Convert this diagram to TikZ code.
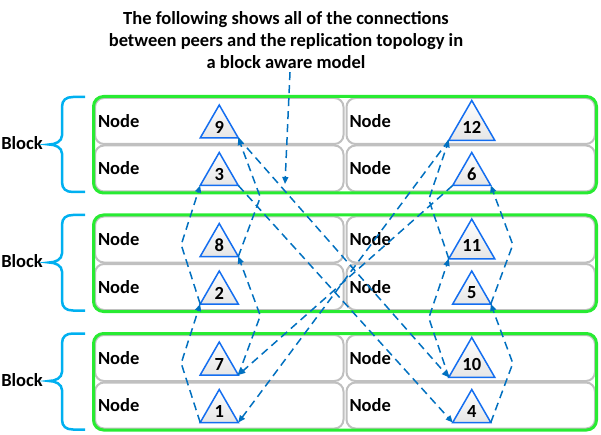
\documentclass[tikz,border=0pt]{standalone}
\usepackage{fontspec}
\setmainfont{Carlito}
\usepackage{tikz}
\usetikzlibrary{positioning,fit,calc,shapes,arrows.meta}

\definecolor{linkblue}{RGB}{0,112,192}
\definecolor{peerblue}{RGB}{20,110,240}
\definecolor{grpgreen}{RGB}{40,235,50}
\definecolor{bracecyan}{RGB}{0,176,240}
\definecolor{cellgray}{RGB}{192,192,192}

\begin{document}
\begin{tikzpicture}
	[
		x=1pt, y=-1pt,
		font=\fontsize{18.5}{22}\selectfont\bfseries,
		cell/.style = {draw=cellgray, line width=2pt, rounded corners=9pt, fill=white, minimum height=46pt, text width=242.5pt, inner xsep=3pt, outer sep=0pt, align=left},
		grp/.style = {draw=grpgreen, line width=3pt, rounded corners=10pt, inner sep=1.5pt},
		peer/.style = {regular polygon, regular polygon sides=3, minimum size=44pt, inner sep=0pt, outer sep=0pt, draw=peerblue, line width=1.5pt, top color=white, bottom color=black!10},
		link/.style = {draw=linkblue, line width=1.5pt, dash pattern=on 8pt off 5pt, -{Triangle[length=7pt,width=6pt]}},
		kink/.style = {to path={-- ($(\tikztostart)!.5!(\tikztotarget)+(#1,0)$) -- (\tikztotarget)}},
	]
	\useasboundingbox (0,0) rectangle (601,435);

	\node[align=center] (title) at (286,40) {The following shows all of the connections\\between peers and the replication topology in\\a block aware model};

	% cells, left column
	\node[cell] (c9) at (219.25,121) {Node};
	\node[cell, below=1.5pt of c9] (c3) {Node};
	\node[cell, below=25pt of c3] (c8) {Node};
	\node[cell, below=1.5pt of c8] (c2) {Node};
	\node[cell, below=25pt of c2] (c7) {Node};
	\node[cell, below=1.5pt of c7] (c1) {Node};
	% cells, right column
	\node[cell, right=3pt of c9] (c12) {Node};
	\node[cell, right=3pt of c3] (c6) {Node};
	\node[cell, right=3pt of c8] (c11) {Node};
	\node[cell, right=3pt of c2] (c5) {Node};
	\node[cell, right=3pt of c7] (c10) {Node};
	\node[cell, right=3pt of c1] (c4) {Node};

	\node[grp, fit=(c9)(c6)] (blk1) {};
	\node[grp, fit=(c8)(c5)] (blk2) {};
	\node[grp, fit=(c7)(c4)] (blk3) {};

	\foreach \i/\t/\c/\b in {1/97/144.5/192, 2/215/262.5/310.5, 3/333.5/381/429.5}
	{
		\node (lbl\i) at (22,\c-1) {Block};
		\draw[bracecyan, line width=2.5pt] (85,\t) -- (73,\t) .. controls (66,\t) and (62,{\t+3}) .. (62,{\t+10})
			-- (62,{\c-9}) .. controls (62,{\c-3}) and (55,\c) .. (49,\c)
			.. controls (55,\c) and (62,{\c+3}) .. (62,{\c+9})
			-- (62,{\b-10}) .. controls (62,{\b-3}) and (66,\b) .. (73,\b) -- (85,\b);
	}

	% peers
	\node[peer] (p9) at ([yshift=-6pt]c9.center) {9};
	\node[peer] (p3) at ([yshift=-6pt]c3.center) {3};
	\node[peer] (p8) at ([yshift=-6pt]c8.center) {8};
	\node[peer] (p2) at ([yshift=-6pt]c2.center) {2};
	\node[peer] (p7) at ([yshift=-6pt]c7.center) {7};
	\node[peer] (p1) at ([yshift=-6pt]c1.center) {1};
	\node[peer] (p12) at ([xshift=1pt,yshift=-6pt]c12.center) {12};
	\node[peer] (p6) at ([xshift=1pt,yshift=-6pt]c6.center) {6};
	\node[peer] (p11) at ([xshift=1pt,yshift=-6pt]c11.center) {11};
	\node[peer] (p5) at ([xshift=1pt,yshift=-6pt]c5.center) {5};
	\node[peer] (p10) at ([xshift=1pt,yshift=-6pt]c10.center) {10};
	\node[peer] (p4) at ([xshift=1pt,yshift=-6pt]c4.center) {4};

	% replication ring
	\draw[link] (p1.corner 2) to[kink=-19] (p2.corner 2);
	\draw[link] (p2.corner 2) to[kink=-19] (p3.corner 2);
	\draw[link] (p3.corner 3) -- (p4.corner 2);
	\draw[link] (p4.corner 3) to[kink=22] (p5.corner 3);
	\draw[link] (p5.corner 3) to[kink=22] (p6.corner 3);
	\draw[link] (p6.corner 2) -- (p7.corner 3);
	\draw[link] (p7.corner 3) to[kink=22] (p8.corner 3);
	\draw[link] (p8.corner 3) to[kink=22] (p9.corner 3);
	\draw[link] (p9.corner 3) -- (p10.corner 2);
	\draw[link] (p10.corner 2) to[kink=-20] (p11.corner 2);
	\draw[link] (p11.corner 2) to[kink=-20] (p12.corner 2);
	\draw[link] (p12.corner 2) -- (p1.corner 3);

	\coordinate (ptr) at (285,184);
	\draw[link] ([xshift=4pt]title.south) -- (ptr);

\end{tikzpicture}
\end{document}
